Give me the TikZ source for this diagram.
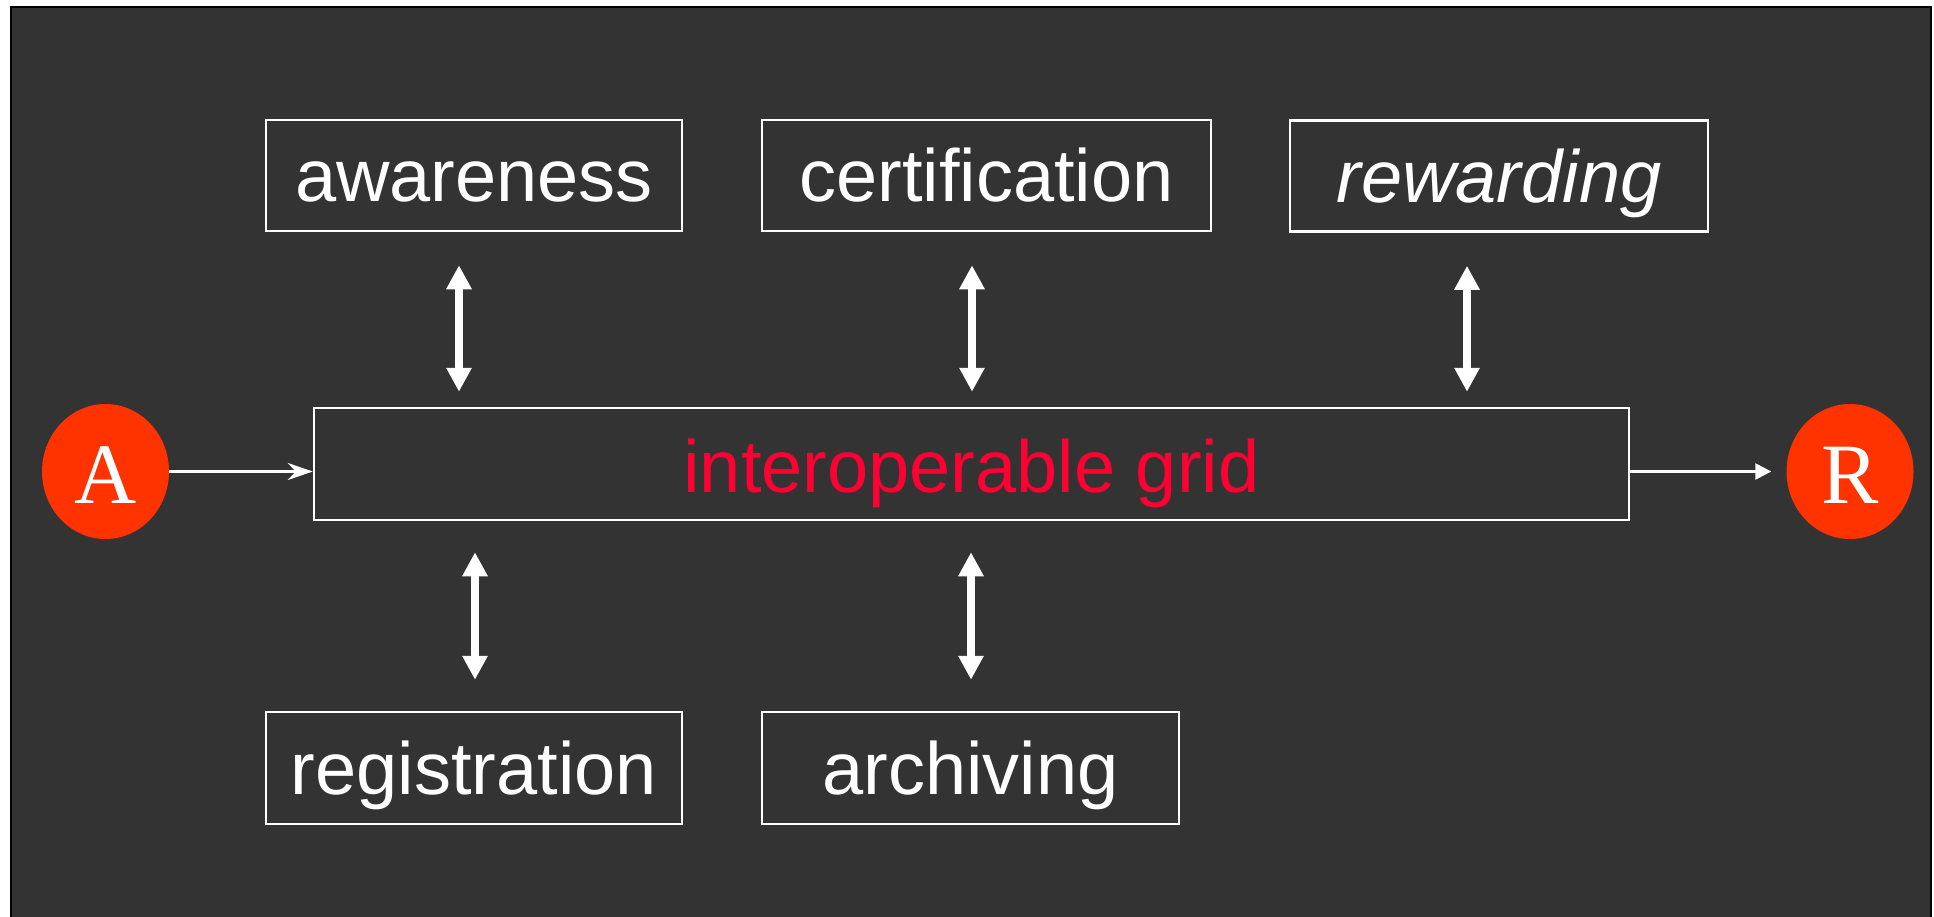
\documentclass[tikz,border=0pt]{standalone}
\usepackage{fontspec}
\setmainfont{Liberation Sans}
\newfontfamily\serifletter{Liberation Serif}
\usetikzlibrary{arrows.meta,shapes.geometric,calc}

\definecolor{panel}{HTML}{333333}
\definecolor{gridred}{HTML}{FF0033}
\definecolor{dotred}{HTML}{FF3300}

\begin{document}
\begin{tikzpicture}[x=1pt,y=-1pt,
  topic/.style={draw=white, line width=2.5pt, text=white, inner sep=0pt,
    minimum height=111pt, text height=52pt, text depth=0pt,
    font=\fontsize{74}{80}\selectfont},
  hub/.style={draw=white, line width=2.5pt, text=gridred, inner sep=0pt,
    minimum height=112pt, text height=56pt, text depth=0pt,
    font=\fontsize{74}{80}\selectfont},
  dot/.style={ellipse, fill=dotred, text=white, inner sep=0pt,
    minimum width=127pt, minimum height=135pt, text height=63pt, text depth=0pt,
    font=\serifletter\fontsize{86}{90}\selectfont},
  link/.style={draw=white, line width=2.5pt},
  dbl/.style={draw=white, line width=8pt,
    {Triangle[length=24pt,width=24pt]}-{Triangle[length=24pt,width=24pt]}}
]
\useasboundingbox (0,0) rectangle (1934,916);
% page and dark panel
\fill[white] (0,0) rectangle (1934,916);
\draw[black, line width=2pt, fill=panel] (11,7) rectangle (1931,940);

% boxes
\node[topic, minimum width=416pt] (awareness) at (474,175.5) {awareness};
\node[topic, minimum width=449pt] (certification) at (986.5,175.5) {certification};
\node[topic, minimum width=418pt, font=\fontsize{74}{80}\selectfont\itshape] (rewarding) at (1499,176) {rewarding};
\node[hub, minimum width=1315pt] (grid) at (971.5,464) {interoperable grid};
\node[topic, minimum width=416pt, minimum height=112pt] (registration) at (474,768) {registration};
\node[topic, minimum width=417pt, minimum height=112pt] (archiving) at (970.5,768) {archiving};

% end points
\node[dot] (A) at (105.5,471.5) {A};
\node[dot] (R) at (1850,471.5) {R};

% flow through the grid
\draw[link, -{Stealth[length=25pt,width=17pt,inset=8pt]}] (A.east) -- (A.east -| grid.west);
\draw[link, -{Triangle[length=16pt,width=16pt]}] (grid.east |- R.west) -- ([xshift=-15pt]R.west);

% two-way exchanges with the grid
\path ([xshift=-15pt]awareness.south) coordinate (u1)
      ([xshift=-14.5pt]certification.south) coordinate (u2)
      ([xshift=-32pt]rewarding.south) coordinate (u3)
      ([xshift=1pt]registration.north) coordinate (d1)
      ([xshift=0.5pt]archiving.north) coordinate (d2);
\foreach \u in {u1,u2,u3}
  \draw[dbl] ($(\u)+(0,33)$) -- ($(\u |- grid.north)+(0,-15)$);
\foreach \d in {d1,d2}
  \draw[dbl] ($(\d |- grid.south)+(0,31)$) -- ($(\d)+(0,-31)$);
\end{tikzpicture}
\end{document}
